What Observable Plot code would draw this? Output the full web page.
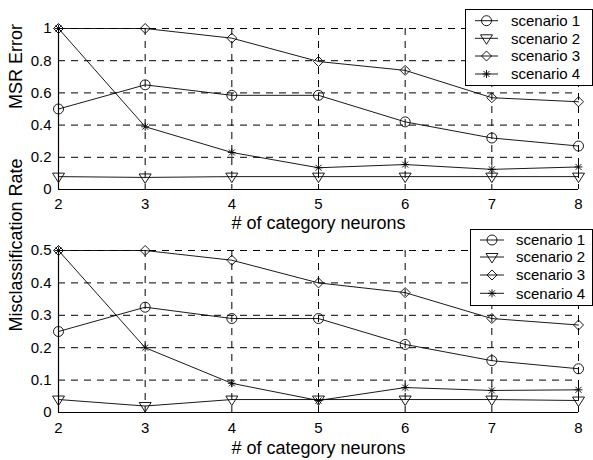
<!DOCTYPE html>
<html><head><meta charset="utf-8">
<script src="https://cdn.jsdelivr.net/npm/d3@7"></script>
<script src="https://cdn.jsdelivr.net/npm/@observablehq/plot@0.6"></script>
<style>
body{margin:0;background:#fff;}
#chart svg{display:block;overflow:visible;}
</style>
</head><body><div id="chart"></div>
<script>
const neurons = [2, 3, 4, 5, 6, 7, 8];
const scenarios = ["scenario 1", "scenario 2", "scenario 3", "scenario 4"];
const msrS1 = [0.50, 0.65, 0.585, 0.585, 0.42, 0.32, 0.27];
const msrS2 = [0.08, 0.075, 0.08, 0.08, 0.08, 0.08, 0.08];
const msrS3 = [1.00, 1.00, 0.94, 0.795, 0.74, 0.57, 0.545];
const msrS4 = [1.00, 0.39, 0.23, 0.135, 0.155, 0.125, 0.14];
const misS1 = [0.25, 0.325, 0.29, 0.29, 0.21, 0.16, 0.135];
const misS2 = [0.04, 0.02, 0.04, 0.04, 0.04, 0.04, 0.037];
const misS3 = [0.50, 0.50, 0.47, 0.40, 0.37, 0.29, 0.27];
const misS4 = [0.50, 0.20, 0.09, 0.037, 0.077, 0.068, 0.07];
const xTicks = [2, 3, 4, 5, 6, 7, 8];
const msrTicks = [0, 0.2, 0.4, 0.6, 0.8, 1];
const misTicks = [0, 0.1, 0.2, 0.3, 0.4, 0.5];
const xLabel = "# of category neurons";
const msrLabel = "MSR Error";
const misLabel = "Misclassification Rate";

// marker shapes (unit based on radius r = 5)
const symCircle = {draw(c, size) { const r = Math.sqrt(size / Math.PI); c.moveTo(r, 0); c.arc(0, 0, r, 0, 2 * Math.PI); c.closePath(); }};
const symTriDown = {draw(c, size) { const u = Math.sqrt(size / Math.PI) / 5; c.moveTo(-6 * u, -3.5 * u); c.lineTo(6 * u, -3.5 * u); c.lineTo(0, 6 * u); c.closePath(); }};
const symDiamond = {draw(c, size) { const u = Math.sqrt(size / Math.PI) / 5; c.moveTo(0, -5 * u); c.lineTo(5 * u, 0); c.lineTo(0, 5 * u); c.lineTo(-5 * u, 0); c.closePath(); }};
const symStar = {draw(c, size) { const u = Math.sqrt(size / Math.PI) / 5; c.moveTo(-4 * u, 0); c.lineTo(4 * u, 0); c.moveTo(0, -4 * u); c.lineTo(0, 4 * u); c.moveTo(-3 * u, -3 * u); c.lineTo(3 * u, 3 * u); c.moveTo(-3 * u, 3 * u); c.lineTo(3 * u, -3 * u); }};
const symbols = [symCircle, symTriDown, symDiamond, symStar];

const FONT = "'Liberation Sans', Arial, Helvetica, sans-serif";

function makeChart({series, yTicks, ylabel, height, marginTop, marginBottom, tickPad, titleDy, legend}) {
  const marks = [
    Plot.ruleX(xTicks, {x: d => d, stroke: "#000", strokeWidth: 1, strokeDasharray: "7,6"}),
    Plot.ruleY(yTicks, {y: d => d, stroke: "#000", strokeWidth: 1, strokeDasharray: "7,6"}),
  ];
  series.forEach((vals, i) => {
    const data = neurons.map((n, j) => ({n, v: vals[j]}));
    marks.push(Plot.line(data, {x: "n", y: "v", stroke: "#000", strokeWidth: 0.9}));
    marks.push(Plot.dot(data, {x: "n", y: "v", r: 5, symbol: symbols[i], stroke: "#000", fill: "none", strokeWidth: 0.9}));
  });
  marks.push(
    Plot.ruleX([xTicks[0]], {stroke: "#000", strokeWidth: 1.2}),
    Plot.ruleY([0], {stroke: "#000", strokeWidth: 1.2}),
    Plot.axisX(xTicks, {label: null, tickSize: 0, tickPadding: tickPad, fontSize: 15}),
    Plot.axisY(yTicks, {label: null, tickSize: 0, tickPadding: 7, fontSize: 15, tickFormat: d => String(d)}),
    Plot.text([xLabel], {frameAnchor: "bottom", lineAnchor: "middle", dy: titleDy, fontSize: 18, text: d => d}),
    Plot.text([ylabel], {frameAnchor: "left", lineAnchor: "middle", dx: -42, rotate: -90, fontSize: 18, text: d => d})
  );
  const svg = Plot.plot({
    width: 593, height, marginTop, marginBottom, marginLeft: 58, marginRight: 15,
    x: {domain: [xTicks[0], xTicks[xTicks.length - 1]]},
    y: {domain: [yTicks[0], yTicks[yTicks.length - 1]]},
    style: {fontFamily: FONT, color: "#000", background: "transparent"},
    marks
  });
  // legend box
  const g = d3.select(svg).append("g").attr("text-anchor", "start");
  g.append("rect").attr("x", legend.x0 + 0.5).attr("y", legend.y0 + 0.5)
    .attr("width", legend.w).attr("height", legend.h)
    .attr("fill", "#fff").attr("stroke", "#000").attr("stroke-width", 1);
  scenarios.forEach((name, i) => {
    const cy = legend.rowY[i];
    g.append("line").attr("x1", legend.lx0).attr("x2", legend.lx1).attr("y1", cy).attr("y2", cy)
      .attr("stroke", "#000").attr("stroke-width", 0.9);
    g.append("path").attr("transform", `translate(${(legend.lx0 + legend.lx1) / 2},${cy})`)
      .attr("d", d3.symbol().type(symbols[i]).size(Math.PI * 25)())
      .attr("fill", "none").attr("stroke", "#000").attr("stroke-width", 0.9);
    g.append("text").attr("x", legend.tx).attr("y", cy).attr("dy", "0.35em")
      .attr("text-anchor", "start")
      .attr("font-family", FONT).attr("font-size", 15).attr("fill", "#000").text(name);
  });
  return svg;
}

const root = document.getElementById("chart");
root.appendChild(makeChart({
  series: [msrS1, msrS2, msrS3, msrS4], yTicks: msrTicks, ylabel: msrLabel,
  height: 230, marginTop: 28, marginBottom: 41, tickPad: 9, titleDy: 34,
  legend: {x0: 465, y0: 9, w: 127, h: 76, rowY: [20.7, 38.3, 56, 74], lx0: 475, lx1: 498, tx: 511}
}));
root.appendChild(makeChart({
  series: [misS1, misS2, misS3, misS4], yTicks: misTicks, ylabel: misLabel,
  height: 230, marginTop: 20, marginBottom: 48, tickPad: 10, titleDy: 36,
  legend: {x0: 470, y0: -1, w: 122, h: 76, rowY: [10, 27, 45, 63.3], lx0: 480, lx1: 504, tx: 516}
}));
</script>
</body></html>
